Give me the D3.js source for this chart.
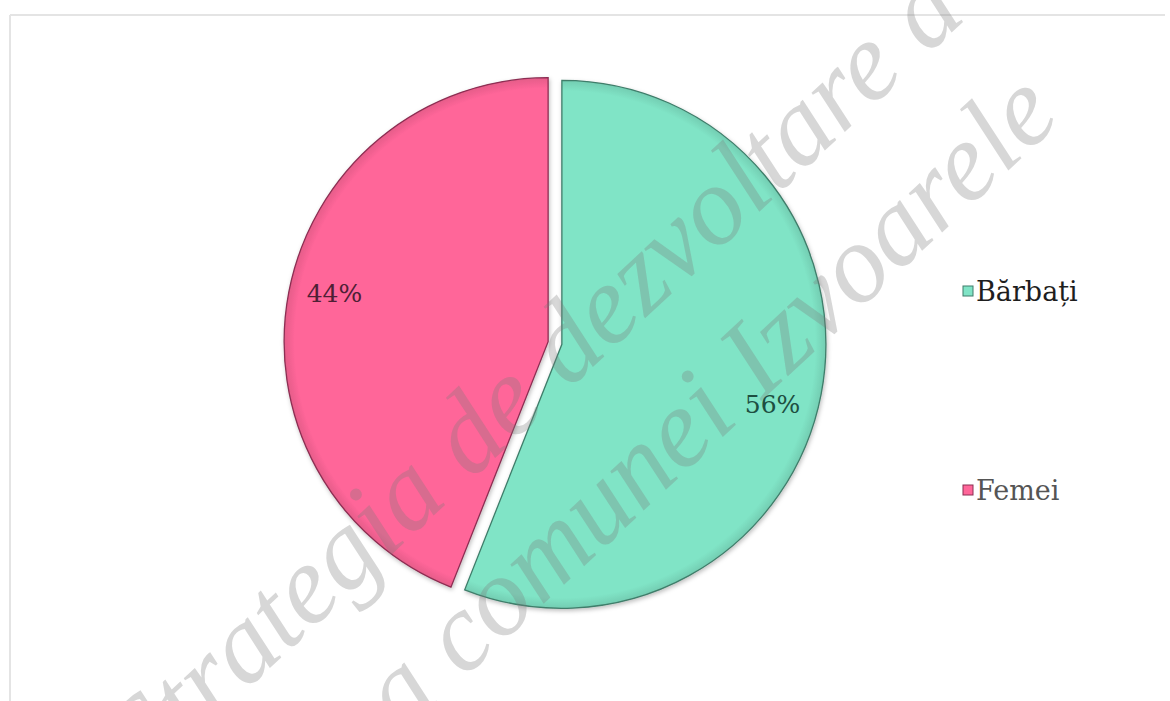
<!DOCTYPE html>
<html>
<head>
<meta charset="utf-8">
<script src="https://cdn.jsdelivr.net/npm/d3@7"></script>
<style>
  html, body { margin: 0; padding: 0; background: #ffffff; }
  svg { display: block; }
</style>
</head>
<body>
<svg id="chart" width="1170" height="701"></svg>
<script>
// ---- data ----
const categories = ["Bărbați", "Femei"];
const values = [56, 44];
const labels = ["56%", "44%"];
const watermarkLines = ["Strategia de dezvoltare a", "a comunei Izvoarele"];

// ---- styling ----
const fills = ["#80e4c6", "#ff6699"];
const strokes = ["#3f7d6a", "#8c2e52"];
const labelColors = ["#1d4f41", "#4e2035"];
const legendColors = ["#1e1e1e", "#555555"];
const labelAngleShift = [0.09, 0.035];

const W = 1170, H = 701;
const cx = 555, cy = 343, R = 264, explode = 7;

const svg = d3.select("#chart");

// frame
svg.append("line").attr("x1", 10).attr("x2", 1165).attr("y1", 15).attr("y2", 15)
  .attr("stroke", "#e4e4e4").attr("stroke-width", 2);
svg.append("line").attr("x1", 10).attr("x2", 10).attr("y1", 15).attr("y2", H)
  .attr("stroke", "#e4e4e4").attr("stroke-width", 2);

const defs = svg.append("defs");
const shadow = defs.append("filter").attr("id", "shadow")
  .attr("x", "-10%").attr("y", "-10%").attr("width", "120%").attr("height", "120%");
shadow.append("feDropShadow").attr("dx", 1).attr("dy", 2).attr("stdDeviation", 2)
  .attr("flood-color", "#000").attr("flood-opacity", 0.25);

fills.forEach((c, i) => {
  const g = defs.append("radialGradient").attr("id", "grad" + i)
    .attr("gradientUnits", "userSpaceOnUse").attr("cx", 0).attr("cy", 0).attr("r", R);
  g.append("stop").attr("offset", "0%").attr("stop-color", c);
  g.append("stop").attr("offset", "96%").attr("stop-color", c);
  g.append("stop").attr("offset", "100%").attr("stop-color", d3.color(c).darker(0.3));
});

const pie = d3.pie().sort(null).value(d => d.value).startAngle(0);
const arcs = pie(categories.map((c, i) => ({ name: c, value: values[i], i })));
const arc = d3.arc().innerRadius(0).outerRadius(R);
const labelR = R * 0.83;

const pieG = svg.append("g").attr("transform", `translate(${cx},${cy})`);
const slices = pieG.selectAll("g.slice").data(arcs).join("g")
  .attr("class", "slice")
  .attr("transform", d => {
    const a = (d.startAngle + d.endAngle) / 2;
    return `translate(${explode * Math.sin(a)},${-explode * Math.cos(a)})`;
  });

slices.append("path")
  .attr("d", arc)
  .attr("fill", d => `url(#grad${d.data.i})`)
  .attr("stroke", d => strokes[d.data.i])
  .attr("stroke-width", 1.3)
  .attr("filter", "url(#shadow)");

slices.append("text")
  .attr("transform", d => {
    const a = (d.startAngle + d.endAngle) / 2 + labelAngleShift[d.data.i];
    return `translate(${labelR * Math.sin(a)},${-labelR * Math.cos(a)})`;
  })
  .attr("text-anchor", "middle")
  .attr("dominant-baseline", "central")
  .attr("font-family", "DejaVu Serif, serif")
  .attr("font-size", 25)
  .attr("fill", d => labelColors[d.data.i])
  .text(d => labels[d.data.i]);

// legend
const legendY = d3.scalePoint().domain(categories).range([291, 490]);
const lg = svg.append("g");
categories.forEach((c, i) => {
  const y = legendY(c);
  lg.append("rect").attr("x", 963).attr("y", y - 5).attr("width", 10).attr("height", 10)
    .attr("fill", fills[i]).attr("stroke", strokes[i]).attr("stroke-width", 1);
  lg.append("text").attr("x", 976).attr("y", y).attr("dominant-baseline", "central")
    .attr("font-family", "DejaVu Serif, serif").attr("font-size", 27)
    .attr("fill", legendColors[i]).text(c);
});

// watermark
const wm = svg.append("g").attr("pointer-events", "none");
const wmPos = [[150, 780], [402, 736]];
watermarkLines.forEach((t, i) => {
  wm.append("text")
    .attr("transform", `translate(${wmPos[i][0]},${wmPos[i][1]}) rotate(-43)`)
    .attr("font-family", "Liberation Serif, serif")
    .attr("font-style", "italic")
    .attr("font-size", 112)
    .attr("fill", "#7a7a7a")
    .attr("fill-opacity", 0.3)
    .text(t);
});
</script>
</body>
</html>
